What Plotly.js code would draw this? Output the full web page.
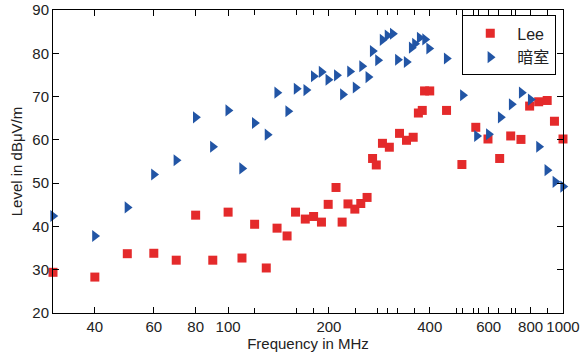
<!DOCTYPE html>
<html>
<head>
<meta charset="utf-8">
<script src="https://cdn.plot.ly/plotly-3.0.1.min.js"></script>
<style>html,body{margin:0;padding:0;background:#fff;}#chart{width:584px;height:354px;}</style>
</head>
<body>
<div id="chart"></div>
<script>
// 暗室 (anechoic chamber) series
const labFreq = [30,40,50,60,70,80,90,100,110,120,131,140,151,160,171,180,190,199,211,220,231,240,251,262,270,280,289,299,310,321,341,353,361,373,387,398,449,502,553,600,651,702,752,800,847,897,948,1000];
const labLevel = [42.4,37.8,44.4,52.0,55.3,65.2,58.4,66.8,53.4,63.9,61.2,70.9,66.6,71.8,71.5,74.7,75.7,73.9,74.9,70.5,75.8,72.1,77.0,74.5,80.5,78.4,83.1,84.1,84.5,78.5,78.0,81.3,82.2,83.6,83.2,81.1,78.8,70.3,60.9,61.3,65.2,68.2,70.9,69.3,58.4,53.0,50.3,49.2];
// Lee series
const leeFreq = [30,40,50,60,70,80,90,100,110,120,130,140,150,159,170,180,190,199,210,219,228,239,249,260,270,277,289,303,325,341,357,370,380,386,400,449,499,549,597,647,698,749,795,846,897,943,1000];
const leeLevel = [29.4,28.3,33.7,33.8,32.2,42.6,32.2,43.3,32.7,40.5,30.4,39.6,37.8,43.3,41.7,42.3,41.0,45.1,49.0,41.0,45.2,44.0,45.3,46.7,55.7,54.2,59.2,58.3,61.5,59.9,60.6,66.2,66.8,71.3,71.3,66.8,54.3,62.9,60.2,55.7,60.9,60.1,67.8,68.8,69.1,64.3,60.2];
// axis ticks
const xTicks = [40,60,80,100,200,400,600,800,1000];
const xMinorTicks = [120,160,180,240,280,300,320,360,480,500,540,560,640,700,720,900];
const yTicks = [20,30,40,50,60,70,80,90];

const font = 'Liberation Sans, Arial, sans-serif';
const traces = [
  {x: leeFreq, y: leeLevel, name: 'Lee', type: 'scatter', mode: 'markers', cliponaxis: false,
   marker: {symbol: 'square', size: 9, color: '#e42a2b'}},
  {x: labFreq, y: labLevel, name: '暗室', type: 'scatter', mode: 'markers', cliponaxis: false,
   marker: {symbol: 'triangle-right', size: 10.5, color: '#2255a5'}}
];
const layout = {
  width: 584, height: 354,
  margin: {l: 53, r: 21, t: 9.5, b: 40.7},
  paper_bgcolor: '#fff', plot_bgcolor: '#fff',
  font: {family: font, size: 15, color: '#222'},
  showlegend: true,
  legend: {x: 0.8025, y: 0.982, xanchor: 'left', yanchor: 'top', bordercolor: '#000', borderwidth: 1,
           itemwidth: 44, bgcolor: '#fff', font: {family: font + ', Noto Sans CJK SC', size: 16, color: '#222'}},
  xaxis: {type: 'log', range: [Math.log10(30), Math.log10(1000)], tickmode: 'array', tickvals: xTicks,
          ticktext: xTicks.map(String), ticks: 'inside', ticklen: 6, tickcolor: '#000', showgrid: false,
          zeroline: false, showline: true, linecolor: '#000', linewidth: 1, mirror: 'ticks',
          minor: {tickmode: 'array', tickvals: xMinorTicks, ticks: 'inside', ticklen: 5, tickcolor: '#000', showgrid: false},
          title: {text: 'Frequency in MHz', standoff: 1, font: {family: font, size: 15, color: '#222'}}},
  yaxis: {range: [20, 90], tickmode: 'array', tickvals: yTicks, ticks: 'inside', ticklen: 6, tickcolor: '#000',
          showgrid: false, zeroline: false, showline: true, linecolor: '#000', linewidth: 1, mirror: 'ticks',
          title: {text: 'Level in dBμV/m', standoff: 6, font: {family: font, size: 15, color: '#222'}}}
};
Plotly.newPlot('chart', traces, layout, {displayModeBar: false, staticPlot: true});
</script>
</body>
</html>
